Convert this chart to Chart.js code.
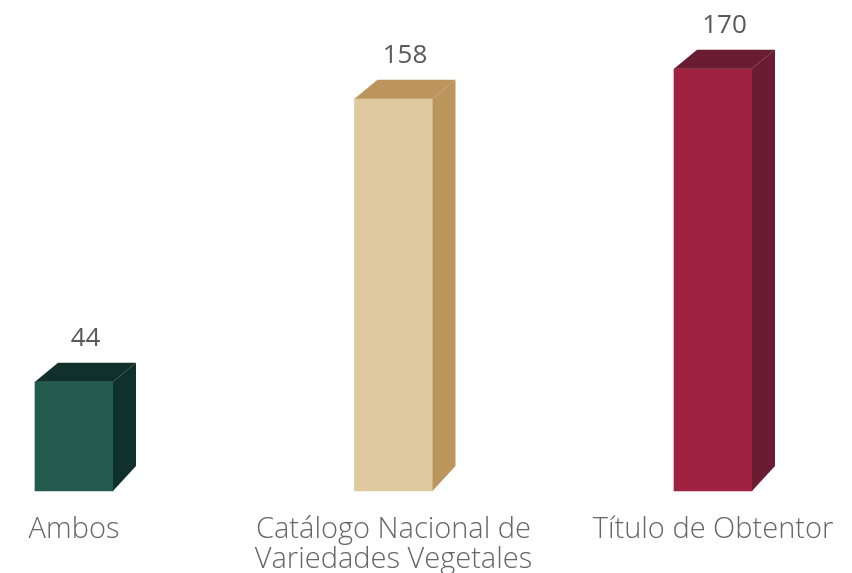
<!DOCTYPE html>
<html>
<head>
<meta charset="utf-8">
<script src="https://cdn.jsdelivr.net/npm/chart.js@4"></script>
<style>
  body { margin: 0; background: #fff; }
  #wrap { width: 852px; height: 573px; }
</style>
</head>
<body>
<div id="wrap"><canvas id="tipoChart"></canvas></div>
<script>
const categories = ['Ambos', ['Catálogo Nacional de', 'Variedades Vegetales'], 'Título de Obtentor'];
const values = [44, 158, 170];

const frontColors = ['#235b4e', '#dec9a1', '#9f2241'];
const sideColors = ['#10312b', '#bc955c', '#691c32'];

// depth of the fake 3d box
const depthX = 23;
const depthTop = 19;
const depthBottom = 25;

const boxes3d = {
  id: 'boxes3d',
  afterDatasetsDraw(chart) {
    const ctx = chart.ctx;
    const meta = chart.getDatasetMeta(0);
    ctx.save();
    meta.data.forEach((bar, i) => {
      const half = bar.width / 2;
      const left = bar.x - half;
      const right = bar.x + half;
      const top = bar.y;
      const bottom = bar.base;
      ctx.fillStyle = sideColors[i];
      // side
      ctx.beginPath();
      ctx.moveTo(right, top);
      ctx.lineTo(right + depthX, top - depthTop);
      ctx.lineTo(right + depthX, bottom - depthBottom);
      ctx.lineTo(right, bottom);
      ctx.closePath();
      ctx.fill();
      // top
      ctx.beginPath();
      ctx.moveTo(left, top);
      ctx.lineTo(left + depthX, top - depthTop);
      ctx.lineTo(right + depthX, top - depthTop);
      ctx.lineTo(right, top);
      ctx.closePath();
      ctx.fill();
      // value label
      ctx.fillStyle = '#595959';
      ctx.font = '400 26px "Open Sans"';
      ctx.textAlign = 'center';
      ctx.textBaseline = 'alphabetic';
      ctx.fillText(values[i], bar.x + depthX / 2, top - depthTop - 17);
    });
    ctx.restore();
  }
};

new Chart(document.getElementById('tipoChart'), {
  type: 'bar',
  data: {
    labels: categories,
    datasets: [
      {
        data: values,
        backgroundColor: frontColors,
        borderWidth: 0,
        barThickness: 78,
        clip: false,
      },
    ],
  },
  options: {
    responsive: true,
    maintainAspectRatio: false,
    animation: false,
    layout: { padding: { left: 74, right: 139, top: 44, bottom: -20 } },
    plugins: {
      legend: { display: false },
      tooltip: { enabled: false },
    },
    scales: {
      x: {
        offset: false,
        grid: { display: false, drawTicks: true, tickLength: 6 },
        border: { display: false },
        ticks: {
          autoSkip: false,
          maxRotation: 0,
          padding: 18,
          color: '#666666',
          font: { family: 'Open Sans', size: 29, weight: '300', lineHeight: '30px' },
        },
      },
      y: {
        display: false,
        min: 0,
        max: 180,
      },
    },
  },
  plugins: [boxes3d],
});
</script>
</body>
</html>
